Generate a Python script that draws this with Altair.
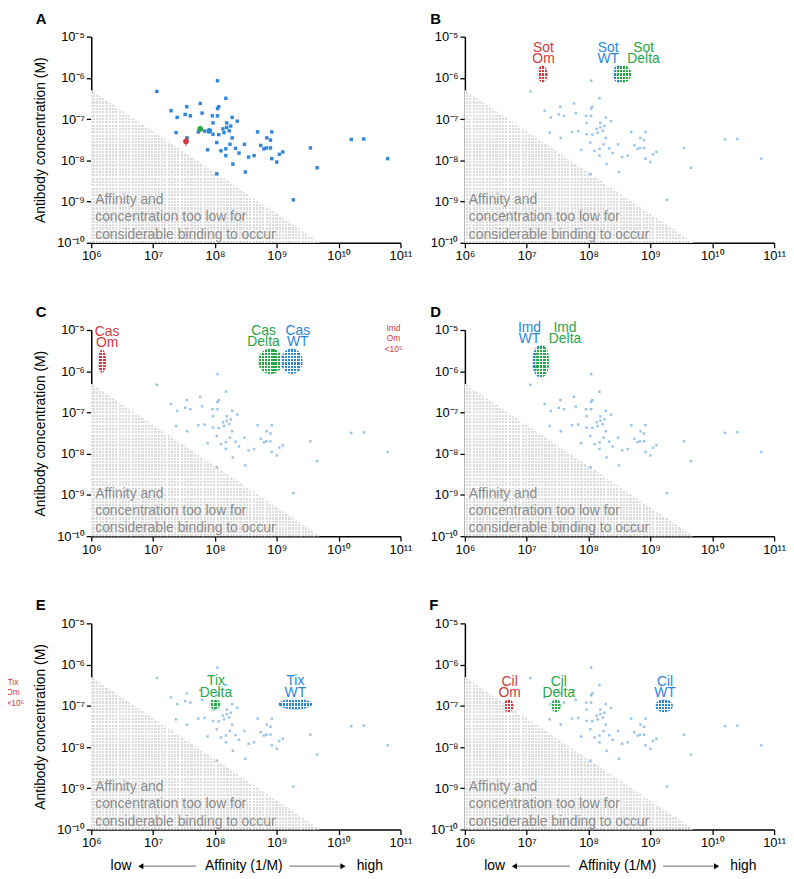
import altair as alt
import pandas as pd

# ------------------------------------------------------------------ data
panel_letters = ["A", "B", "C", "D", "E", "F"]

x_tick_values = [1e6, 1e7, 1e8, 1e9, 1e10, 1e11]
x_tick_labels = ["10⁶", "10⁷", "10⁸", "10⁹", "10¹⁰", "10¹¹"]
y_tick_values = [1e-10, 1e-9, 1e-8, 1e-7, 1e-6, 1e-5]
y_tick_labels = ["10⁻¹⁰", "10⁻⁹", "10⁻⁸", "10⁻⁷", "10⁻⁶", "10⁻⁵"]

y_title = "Antibody concentration (M)"
x_title_parts = ["low", "Affinity (1/M)", "high"]

# other antibodies: affinity (1/M) and concentration (M)
ab_affinity = [1.15e7, 1.95e7, 2.45e7, 3.5e7, 3.3e7, 4.0e7, 5.8e7, 6.2e7, 1.1e8, 1.5e8,
               1.15e8, 1.1e8, 9.1e7, 1.1e8, 1.9e8, 2.3e8, 1.55e8, 1.8e8, 1.55e8, 1.35e8,
               9.3e7, 5.4e7, 6.8e7, 9.3e7, 1.15e8, 1.4e8, 1.7e8, 1.9e8, 1.07e8, 1.25e8,
               1.5e8, 1.5e8, 1.75e8, 2.15e8, 2.45e8, 3.0e8, 1.95e8, 7.6e7, 1.07e8, 2.35e7,
               3.55e7, 4.9e8, 8.3e8, 6.9e8, 7.9e8, 5.5e8, 6.8e8, 6.2e8, 7.9e8, 3.5e8,
               4.3e8, 8.3e8, 1.0e9, 1.1e9, 1.25e9, 3.1e8, 3.5e9, 4.5e9, 1.85e9, 1.6e10,
               2.55e10, 6.2e10]
ab_conc = [4.7e-7, 1.6e-7, 1.1e-7, 2.0e-7, 1.3e-7, 1.2e-7, 2.4e-7, 1.4e-7, 8.5e-7, 3.2e-7,
           2.0e-7, 1.8e-7, 1.2e-7, 1.2e-7, 1.1e-7, 8.9e-8, 8.1e-8, 6.8e-8, 6.3e-8, 5.8e-8,
           8.1e-8, 4.9e-8, 5.1e-8, 4.3e-8, 4.2e-8, 4.7e-8, 5.2e-8, 3.5e-8, 2.7e-8, 1.7e-8,
           1.9e-8, 1.3e-8, 2.45e-8, 1.95e-8, 1.5e-8, 2.45e-8, 8.1e-9, 1.8e-8, 4.7e-9, 4.7e-8,
           3.5e-8, 4.9e-8, 4.9e-8, 3.5e-8, 3.1e-8, 2.3e-8, 2.0e-8, 1.9e-8, 2.0e-8, 1.2e-8,
           1.3e-8, 1.1e-8, 9.1e-9, 1.4e-8, 1.6e-8, 5.2e-9, 2.0e-8, 6.6e-9, 1.1e-9, 3.2e-8,
           3.3e-8, 1.1e-8]

# panel A highlighted antibody (with error bars)
hl_variant = ["Om", "Delta", "WT"]
hl_affinity = [3.4e7, 5.8e7, 8.1e7]
hl_conc = [2.9e-8, 5.8e-8, 5.2e-8]
hl_conc_low = [2.2e-8, 4.9e-8, 4.9e-8]
hl_conc_high = [3.8e-8, 6.9e-8, 5.6e-8]

# "too low" zone: affinity x concentration below ~0.5
zone_affinity = [1e6, 5e9]
zone_conc = [5e-7, 1e-10]
zone_floor = 1e-10
zone_text = "Affinity and\nconcentration too low for\nconsiderable binding to occur"

# drug / variant ellipses
ell_panel = ["B", "B", "B", "C", "C", "C", "D", "D", "E", "E", "F", "F", "F"]
ell_label = ["Sot\nOm", "Sot\nWT", "Sot\nDelta", "Cas\nOm", "Cas\nDelta", "Cas\nWT",
             "Imd\nWT", "Imd\nDelta", "Tix\nDelta", "Tix\nWT", "Cil\nOm", "Cil\nDelta", "Cil\nWT"]
ell_variant = ["Om", "WT", "Delta", "Om", "Delta", "WT", "WT", "Delta", "Delta", "WT", "Om", "Delta", "WT"]
ell_affinity = [1.8e7, 3.0e8, 3.7e8, 1.5e6, 7.9e8, 1.75e9, 1.6e7, 1.78e7, 1.0e8, 2.0e9, 5.1e6, 2.95e7, 1.66e9]
ell_conc = [1.25e-6, 1.25e-6, 1.25e-6, 1.74e-6, 1.74e-6, 1.74e-6, 1.74e-6, 1.74e-6,
            1.1e-7, 1.1e-7, 1.0e-7, 1.0e-7, 1.0e-7]

# omicron values outside the axis range
note_panel = ["D", "E"]
note_text = ["Imd\nOm\n<10⁵", "Tix\nOm\n6×10⁵"]

# ------------------------------------------------------------------ style
FONT = "Liberation Sans"
W, H = 312, 208
COLORS = {"Om": "#d03a3c", "Delta": "#27a646", "WT": "#2a86d8"}
ell_px = [(10, 17), (11, 17), (15, 17), (8, 24), (25, 26), (22, 26), (14, 32), (14, 32),
          (11, 11), (34, 11), (10, 13), (10, 13), (18, 13)]
ell_label_dx = [1, -10, 20, 5, -7, 6, -10, 23, 1, 0, 1, 3, 1]
letter_dx = [-56, -35, -56, -35, -56, -36]
note_pos = {"D": (-72, -6), "E": (-79, 55)}

x_scale = alt.Scale(type="log", domain=[x_tick_values[0], x_tick_values[-1]], nice=False)
y_scale = alt.Scale(type="log", domain=[y_tick_values[0], y_tick_values[-1]], nice=False)

x_label_expr = "[" + ",".join("'%s'" % s for s in x_tick_labels) + "][round(log(datum.value)/LN10) - 6]"
y_label_expr = "[" + ",".join("'%s'" % s for s in y_tick_labels) + "][round(log(datum.value)/LN10) + 10]"

x_axis = alt.Axis(values=x_tick_values, labelExpr=x_label_expr, title=None,
                  labelFlush=False, labelOverlap=False)
y_axis_left = alt.Axis(values=y_tick_values, labelExpr=y_label_expr, title=y_title,
                       labelFlush=False, labelOverlap=False)
y_axis_right = alt.Axis(values=y_tick_values, labelExpr=y_label_expr, title=None,
                        labelFlush=False, labelOverlap=False)


def X(field):
    return alt.X(field, type="quantitative", scale=x_scale, axis=x_axis)


def Y(field, left):
    return alt.Y(field, type="quantitative", scale=y_scale, axis=y_axis_left if left else y_axis_right)


def stripes(n, vertical, frac=0.33, color="white"):
    clear = "rgba(255,255,255,0)"
    stops = []
    for i in range(n):
        a, b, c = i / n, (i + frac) / n, (i + 1) / n
        stops += [alt.GradientStop(offset=a, color=color), alt.GradientStop(offset=b, color=color),
                  alt.GradientStop(offset=b, color=clear), alt.GradientStop(offset=c, color=clear)]
    if vertical:
        return alt.LinearGradient(gradient="linear", stops=stops, x1=0, y1=0, x2=1, y2=0)
    return alt.LinearGradient(gradient="linear", stops=stops, x1=0, y1=0, x2=0, y2=1)


def ellipse_path(w, h):
    m = max(w, h)
    rx, ry = w / m, h / m
    return "M%.3f,0A%.3f,%.3f 0 1,0 %.3f,0A%.3f,%.3f 0 1,0 %.3f,0Z" % (-rx, rx, ry, rx, rx, ry, -rx)


one = pd.DataFrame({"k": [0]})
points_df = pd.DataFrame({"aff": ab_affinity, "conc": ab_conc})
zone_df = pd.DataFrame({"aff": zone_affinity, "conc": zone_conc, "base": [zone_floor] * len(zone_affinity)})
zone_text_df = pd.DataFrame({"aff": [zone_affinity[0]], "conc": [zone_floor], "t": [zone_text]})
hl_df = pd.DataFrame({"aff": hl_affinity, "conc": hl_conc, "lo": hl_conc_low, "hi": hl_conc_high,
                      "variant": hl_variant})


def panel(idx):
    letter = panel_letters[idx]
    left = idx % 2 == 0
    bottom = idx >= 4
    layers = []

    # grey "too low" zone with a fine mesh texture
    layers.append(alt.Chart(zone_df).mark_area(color="#dcdcdc", opacity=1, line=False)
                  .encode(x=X("aff"), y=Y("conc", left), y2="base:Q"))
    layers.append(alt.Chart(zone_df).mark_area(fill=stripes(70, True, 0.35), opacity=1)
                  .encode(x=X("aff"), y=Y("conc", left), y2="base:Q"))
    layers.append(alt.Chart(zone_df).mark_area(fill=stripes(46, False, 0.35), opacity=1)
                  .encode(x=X("aff"), y=Y("conc", left), y2="base:Q"))
    layers.append(alt.Chart(zone_text_df).mark_text(align="left", baseline="top", dx=4, dy=-50,
                                                    fontSize=14, lineHeight=17.5, color="#8a8a8a",
                                                    font=FONT, lineBreak="\n")
                  .encode(x=X("aff"), y=Y("conc", left), text="t:N"))

    # other antibodies
    if letter == "A":
        layers.append(alt.Chart(points_df).mark_square(size=12, color="#2680d8", opacity=0.95)
                      .encode(x=X("aff"), y=Y("conc", left)))
        cscale = alt.Scale(domain=list(COLORS.keys()), range=list(COLORS.values()))
        layers.append(alt.Chart(hl_df).mark_rule(strokeWidth=1)
                      .encode(x=X("aff"), y=Y("lo", left), y2="hi:Q",
                              color=alt.Color("variant:N", scale=cscale, legend=None)))
        layers.append(alt.Chart(hl_df).mark_circle(size=34, opacity=1)
                      .encode(x=X("aff"), y=Y("conc", left),
                              color=alt.Color("variant:N", scale=cscale, legend=None)))
    else:
        layers.append(alt.Chart(points_df).mark_square(size=6, color="#3d92de", opacity=0.55)
                      .encode(x=X("aff"), y=Y("conc", left)))

    # ellipses with labels
    for i, p in enumerate(ell_panel):
        if p != letter:
            continue
        w, h = ell_px[i]
        col = COLORS[ell_variant[i]]
        d = pd.DataFrame({"aff": [ell_affinity[i]], "conc": [ell_conc[i]], "lab": [ell_label[i]]})
        shp = ellipse_path(w, h)
        sz = max(w, h) ** 2
        layers.append(alt.Chart(d).mark_point(shape=shp, size=sz, filled=True, fill=col, opacity=1,
                                              strokeOpacity=0)
                      .encode(x=X("aff"), y=Y("conc", left)))
        layers.append(alt.Chart(d).mark_point(shape=shp, size=sz, filled=True, opacity=1, strokeOpacity=0,
                                              fill=stripes(max(2, round(w / 3.2)), True, 0.3))
                      .encode(x=X("aff"), y=Y("conc", left)))
        layers.append(alt.Chart(d).mark_point(shape=shp, size=sz, filled=True, opacity=1, strokeOpacity=0,
                                              fill=stripes(max(2, round(h / 3.2)), False, 0.3))
                      .encode(x=X("aff"), y=Y("conc", left)))
        layers.append(alt.Chart(d).mark_text(align="center", baseline="top", dx=ell_label_dx[i],
                                             dy=-h / 2 - 24.5, fontSize=14, lineHeight=11.5, color=col,
                                             font=FONT, lineBreak="\n")
                      .encode(x=X("aff"), y=Y("conc", left), text="lab:N"))

    # out-of-range notes
    for i, p in enumerate(note_panel):
        if p != letter:
            continue
        nx, ny = note_pos[p]
        d = pd.DataFrame({"t": [note_text[i]]})
        layers.append(alt.Chart(d).mark_text(align="center", baseline="top", fontSize=8.5, lineHeight=10.5,
                                             color=COLORS["Om"], font=FONT, lineBreak="\n")
                      .encode(x=alt.value(nx), y=alt.value(ny), text="t:N"))

    # panel letter
    layers.append(alt.Chart(one).mark_text(text=letter, align="left", baseline="alphabetic", fontSize=15,
                                           fontWeight="bold", color="black", font=FONT)
                  .encode(x=alt.value(letter_dx[idx]), y=alt.value(-13)))

    # x-axis title with arrows (bottom row)
    if bottom:
        yv = H + 37
        for word, px in zip(x_title_parts, [30, 154, 281]):
            layers.append(alt.Chart(one).mark_text(text=word, align="center", baseline="middle", fontSize=14,
                                                   color="black", font=FONT)
                          .encode(x=alt.value(px), y=alt.value(yv)))
        for x1, x2 in [(50, 106), (200, 254)]:
            layers.append(alt.Chart(one).mark_rule(color="#8a8a8a", strokeWidth=1.3)
                          .encode(x=alt.value(x1), x2=alt.value(x2), y=alt.value(yv)))
        for shp, px in [("triangle-left", 50), ("triangle-right", 254)]:
            layers.append(alt.Chart(one).mark_point(shape=shp, size=36, filled=True, color="black", opacity=1)
                          .encode(x=alt.value(px), y=alt.value(yv)))

    return alt.layer(*layers).properties(width=W, height=H)


chart = alt.concat(*[panel(i) for i in range(6)], columns=2,
                   spacing={"row": 88, "column": 65}, bounds="flush").properties(
    padding={"left": -7, "top": 0, "right": 0, "bottom": 0}
).configure_view(strokeWidth=0).configure_axis(
    domainColor="black", domainWidth=1.5, tickColor="black", tickWidth=1.3, tickSize=5,
    labelFont=FONT, labelFontSize=13, labelColor="black", labelPadding=2,
    titleFont=FONT, titleFontSize=14, titleFontWeight="normal", titleColor="black",
    titlePadding=9, grid=False
)

chart.save("out.html", embed_options={"renderer": "svg", "actions": False})
